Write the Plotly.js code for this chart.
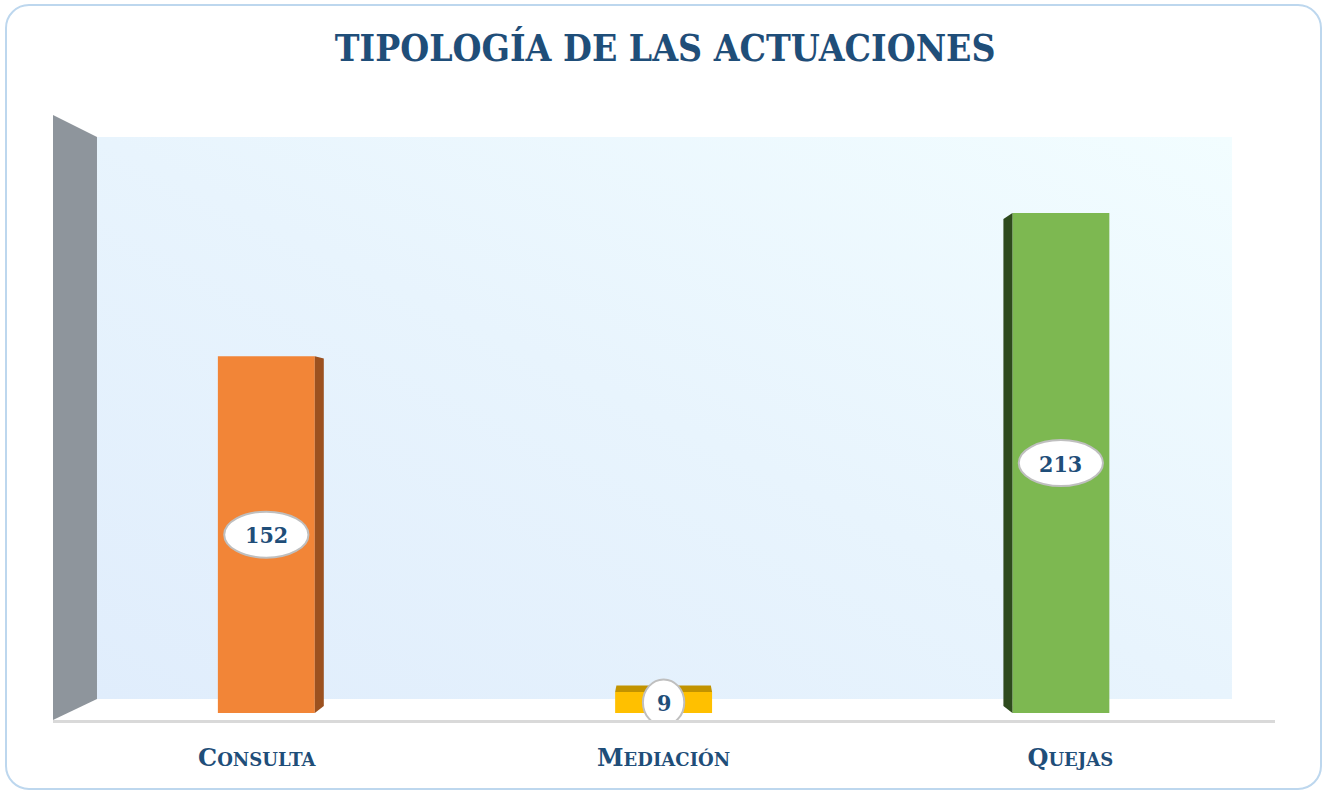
<!DOCTYPE html>
<html>
<head>
<meta charset="utf-8">
<script src="https://cdn.plot.ly/plotly-3.0.1.min.js"></script>
<style>
  html, body { margin: 0; padding: 0; background: #ffffff; }
  #frame { position: absolute; left: 5px; top: 4px; width: 1313px; height: 782px;
           border: 2px solid #BDD7EE; border-radius: 24px; }
  #wall { position: absolute; left: 97px; top: 137px; width: 1135px; height: 562px;
          background: linear-gradient(to top right, #E0EDFC 0%, #E8F4FD 50%, #F2FDFF 100%); }
  #chart { position: absolute; left: 0; top: 0; width: 1325px; height: 793px; }
</style>
</head>
<body>
<div id="frame"></div>
<div id="wall"></div>
<div id="chart"></div>
<script>
// ---- data ----
const categories = ['Consulta', 'Mediación', 'Quejas'];
const values = [152, 9, 213];
const frontColors = ['#F28537', '#FFC000', '#7DB851'];
const depthColors = ['#9C511F', '#C29300', '#2E4A1D'];

// ---- styling constants ----
const titleText = 'TIPOLOGÍA DE LAS ACTUACIONES';
const navy = '#1F4E79';
const barHalf = 0.122;
const vp = { x: 1, y: 116 };   // perspective vanishing point (data units)
const depth = 0.0258;          // depth fraction toward vanishing point
const labelSpread = 0.024;

const xs = categories.map((c, i) => i);
const tickLabels = categories.map(c =>
  '<b>' + c.charAt(0).toUpperCase() +
  '<span style="font-size:18px">' + c.slice(1).toUpperCase() + '</span></b>');
const tickPos = xs.map(x => x + (x - 1) * labelSpread);

function back(x, y) { return [x + depth * (vp.x - x), y + depth * (vp.y - y)]; }

const traces = [];
values.forEach((v, i) => {
  const xl = xs[i] - barHalf, xr = xs[i] + barHalf, yb = 0, yt = v;
  const polys = [];
  if (xr < vp.x) polys.push([[xr, yb], back(xr, yb), back(xr, yt), [xr, yt]]);
  if (xl > vp.x) polys.push([[xl, yb], back(xl, yb), back(xl, yt), [xl, yt]]);
  if (yt < vp.y) polys.push([[xl, yt], back(xl, yt), back(xr, yt), [xr, yt]]);
  polys.forEach(p => {
    traces.push({
      type: 'scatter', mode: 'lines', fill: 'toself',
      x: p.map(q => q[0]).concat([p[0][0]]),
      y: p.map(q => q[1]).concat([p[0][1]]),
      fillcolor: depthColors[i], line: { width: 0, color: depthColors[i] },
      hoverinfo: 'skip', showlegend: false
    });
  });
});

traces.push({
  type: 'bar', x: xs, y: values, width: barHalf * 2,
  marker: { color: frontColors, line: { width: 0 } },
  hoverinfo: 'skip', showlegend: false
});

const shapes = [
  { type: 'path', xref: 'paper', yref: 'paper', layer: 'below',
    path: 'M 0,1 L 0.036,0.9636 L 0.036,0.0347 L 0,0 Z',
    fillcolor: '#8E959C', line: { width: 0 } }
];
const annotations = [];
values.forEach((v, i) => {
  const digits = String(v).length;
  const hw = 0.025 + 0.027 * digits;
  const hh = 9.8;
  shapes.push({ type: 'circle', xref: 'x', yref: 'y',
    x0: xs[i] - hw, x1: xs[i] + hw, y0: v / 2 - hh, y1: v / 2 + hh,
    fillcolor: '#FFFFFF', line: { color: '#BFBFBF', width: 2 } });
  annotations.push({ x: xs[i], y: v / 2, xref: 'x', yref: 'y', showarrow: false,
    text: String(v),
    font: { family: 'DejaVu Serif Condensed, DejaVu Serif, serif', size: 23, color: navy, weight: 'bold' } });
});

const layout = {
  width: 1325, height: 793,
  margin: { l: 53, r: 50, t: 115, b: 73 },
  paper_bgcolor: 'rgba(0,0,0,0)', plot_bgcolor: 'rgba(0,0,0,0)',
  showlegend: false,
  title: { text: titleText, x: 0.502, xref: 'container', xanchor: 'center',
    y: 0.94, yref: 'container', yanchor: 'middle',
    font: { family: 'DejaVu Serif Condensed, DejaVu Serif, serif', size: 37, color: navy, weight: 'bold' } },
  xaxis: { range: [-0.537, 2.539], tickvals: tickPos, ticktext: tickLabels,
    showgrid: false, zeroline: false, showline: true, linecolor: '#D9D9D9', linewidth: 3,
    ticks: '', ticklabelstandoff: 14, fixedrange: true,
    tickfont: { family: 'DejaVu Serif, serif', size: 24, color: navy } },
  yaxis: { range: [-2.98, 254.8], visible: false, fixedrange: true },
  shapes: shapes, annotations: annotations
};

Plotly.newPlot('chart', traces, layout, { displayModeBar: false, staticPlot: true });
</script>
</body>
</html>
